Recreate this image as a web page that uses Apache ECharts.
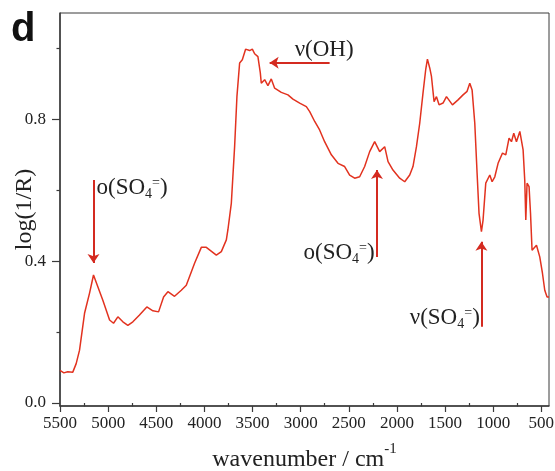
<!DOCTYPE html>
<html>
<head>
<meta charset="utf-8">
<script src="https://cdn.jsdelivr.net/npm/echarts@6/dist/echarts.min.js"></script>
<style>
html,body{margin:0;padding:0;background:#fff;}
#chart{width:555px;height:471px;}
</style>
</head>
<body>
<div id="chart"></div>
<script>
// Wavenumbers (cm^-1) and log(1/R) values
const wavenumbers = [5500,5460,5420,5367,5332,5297,5245,5193,5152,5107,5055,4985,4944,4899,4847,4795,4743,4674,4598,4535,4476,4424,4379,4310,4240,4188,4102,4032,3980,3876,3824,3772,3756,3720,3686,3662,3634,3606,3572,3530,3502,3478,3444,3419,3409,3374,3340,3305,3270,3201,3132,3080,3010,2941,2906,2854,2803,2751,2681,2612,2543,2491,2439,2387,2335,2283,2231,2179,2127,2092,2041,1971,1919,1867,1833,1797,1763,1729,1701,1683,1659,1641,1614,1589,1562,1521,1485,1423,1365,1313,1271,1243,1219,1191,1167,1147,1122,1105,1077,1035,1011,983,949,903,869,835,810,786,758,723,689,672,661,648,627,612,596,550,516,488,464,440,420];
const logInvR = [0.092,0.085,0.088,0.087,0.111,0.149,0.253,0.310,0.361,0.328,0.290,0.234,0.225,0.243,0.229,0.219,0.229,0.248,0.271,0.260,0.257,0.299,0.314,0.301,0.318,0.332,0.394,0.439,0.439,0.417,0.427,0.460,0.488,0.564,0.723,0.864,0.959,0.968,0.998,0.994,0.998,0.985,0.977,0.931,0.902,0.912,0.895,0.914,0.888,0.876,0.869,0.857,0.846,0.836,0.822,0.794,0.770,0.737,0.700,0.676,0.667,0.643,0.634,0.638,0.667,0.709,0.737,0.709,0.723,0.681,0.657,0.634,0.624,0.643,0.667,0.723,0.789,0.874,0.940,0.970,0.945,0.921,0.850,0.864,0.841,0.846,0.864,0.841,0.855,0.869,0.879,0.902,0.883,0.789,0.648,0.535,0.483,0.516,0.620,0.643,0.624,0.638,0.676,0.705,0.700,0.747,0.737,0.761,0.737,0.766,0.714,0.629,0.516,0.620,0.610,0.535,0.431,0.445,0.412,0.366,0.318,0.299,0.299];

// Axis ticks
const xMajorTicks = [5500,5000,4500,4000,3500,3000,2500,2000,1500,1000,500];
const xMinorTicks = [5250,4750,4250,3750,3250,2750,2250,1750,1250,750];
const yMajorTicks = [0,0.4,0.8];
const yMinorTicks = [0.2,0.6,1.0];

// Annotations: label text pieces, anchor [wavenumber, value], arrow start/end
const annLabels = [
  {text:'{n|o(SO}{sub|4}{sup|=}{n|)}', at:[5121,0.606], side:'right'},
  {text:'{n|ν(OH)}', at:[3062,0.995], side:'right'},
  {text:'{n|o(SO}{sub|4}{sup|=}{n|)}', at:[2231,0.423], side:'left'},
  {text:'{n|ν(SO}{sub|4}{sup|=}{n|)}', at:[1139,0.239], side:'left'}
];
const annArrowFrom = [[5152,0.629],[2699,0.960],[2207,0.412],[1122,0.215]];
const annArrowTo   = [[5152,0.395],[3322,0.960],[2207,0.657],[1122,0.455]];

const chart = echarts.init(document.getElementById('chart'), null, {renderer:'canvas'});
const serif = '"Liberation Serif","Times New Roman",serif';
const axisColor = '#3a3a3a';

const richStyles = {
  n:{fontFamily:serif,fontSize:23,color:'#222',lineHeight:30,verticalAlign:'middle'},
  sub:{fontFamily:serif,fontSize:14,color:'#222',lineHeight:30,verticalAlign:'bottom',padding:[0,0,2,0]},
  sup:{fontFamily:serif,fontSize:14,color:'#222',lineHeight:30,verticalAlign:'top',padding:[3,0,0,0]}
};

const data = wavenumbers.map((w,i)=>[w,logInvR[i]]);

chart.setOption({
  animation:false,
  backgroundColor:'#fff',
  grid:{left:60,right:6,top:13,bottom:65,show:true,borderColor:axisColor,borderWidth:1,backgroundColor:'transparent',containLabel:false,outerBoundsMode:'none'},
  graphic:[{type:'text',left:11,top:10,style:{text:'d',font:'bold 40px "Liberation Sans", Arial, sans-serif',fill:'#111'}}],
  xAxis:[{
    type:'value',inverse:true,min:420,max:5500,
    axisLine:{show:true,onZero:false,lineStyle:{color:axisColor,width:1.5}},
    axisTick:{show:true,inside:false,length:6,customValues:xMajorTicks,lineStyle:{color:axisColor,width:1.2}},
    axisLabel:{customValues:xMajorTicks,margin:9,fontFamily:serif,fontSize:17,color:'#222',formatter:v=>String(Math.round(v))},
    splitLine:{show:false},
    name:'{n|wavenumber / cm}{s|-1}',nameLocation:'middle',nameGap:36,nameMoveOverlap:false,
    nameTextStyle:{rich:{n:{fontFamily:serif,fontSize:24,color:'#222',lineHeight:30,verticalAlign:'bottom'},s:{fontFamily:serif,fontSize:15,color:'#222',lineHeight:30,verticalAlign:'top'}}}
  },{
    type:'value',inverse:true,min:420,max:5500,position:'bottom',
    axisLine:{show:false},
    axisTick:{show:true,inside:false,length:3.5,customValues:xMinorTicks,lineStyle:{color:axisColor,width:1.2}},
    axisLabel:{show:false},splitLine:{show:false}
  }],
  yAxis:[{
    type:'value',min:-0.0085,max:1.1,
    axisLine:{show:true,onZero:false,lineStyle:{color:axisColor,width:1.5}},
    axisTick:{show:true,inside:false,length:8,customValues:yMajorTicks,lineStyle:{color:axisColor,width:1.2}},
    axisLabel:{customValues:yMajorTicks,margin:14,fontFamily:serif,fontSize:17,color:'#222',formatter:v=>Number(v).toFixed(1)},
    splitLine:{show:false},
    name:'log(1/R)',nameLocation:'middle',nameGap:23,nameRotate:90,nameMoveOverlap:false,
    nameTextStyle:{fontFamily:serif,fontSize:24,color:'#222'}
  },{
    type:'value',min:-0.0085,max:1.1,position:'left',
    axisLine:{show:false},
    axisTick:{show:true,inside:false,length:3.5,customValues:yMinorTicks,lineStyle:{color:axisColor,width:1.2}},
    axisLabel:{show:false},splitLine:{show:false}
  }],
  series:[{
    type:'line',data:data,showSymbol:false,symbol:'none',
    lineStyle:{color:'#e2321f',width:1.5},
    markLine:{
      silent:true,symbol:['none','arrow'],symbolSize:9,
      lineStyle:{color:'#d42a20',width:2,type:'solid'},label:{show:false},
      data:annArrowFrom.map((f,i)=>[{coord:f},{coord:annArrowTo[i]}])
    },
    markPoint:{
      silent:true,symbol:'circle',symbolSize:0,
      data:annLabels.map(a=>({coord:a.at,label:{show:true,position:a.side,distance:0,formatter:a.text,rich:richStyles}}))
    }
  },{
    type:'line',xAxisIndex:1,yAxisIndex:1,data:[],silent:true
  }]
});
</script>
</body>
</html>
